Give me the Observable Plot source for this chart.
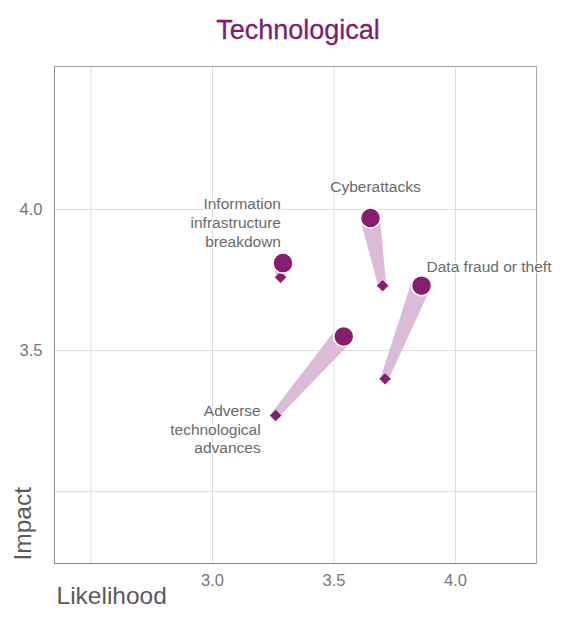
<!DOCTYPE html>
<html>
<head>
<meta charset="utf-8">
<script src="https://cdn.jsdelivr.net/npm/d3@7"></script>
<script src="https://cdn.jsdelivr.net/npm/@observablehq/plot@0.6"></script>
<style>
  body { margin: 0; background: #fff; font-family: "Liberation Sans", Arial, sans-serif; }
  #title { height: 50px; box-sizing: border-box; padding-top: 10px; line-height: 40px; text-align: center;
           font-size: 27px; color: #7d1f6e; width: 570px; padding-left: 26px; -webkit-text-stroke: 0.3px #7d1f6e; }
  #chart svg { display: block; }
</style>
</head>
<body>
<div id="title">Technological</div>
<div id="chart"></div>
<script>
// Data
const risks = ["Information infrastructure breakdown", "Cyberattacks", "Data fraud or theft", "Adverse technological advances"];
const labels = ["Information\ninfrastructure\nbreakdown", "Cyberattacks", "Data fraud or theft", "Adverse\ntechnological\nadvances"];
const likelihoodNew = [3.29, 3.65, 3.86, 3.54];
const impactNew = [3.81, 3.97, 3.73, 3.55];
const likelihoodOld = [3.28, 3.70, 3.71, 3.26];
const impactOld = [3.76, 3.73, 3.40, 3.27];
const xTicks = [3.0, 3.5, 4.0];
const yTicks = [3.5, 4.0];
const xGrid = [2.5, 3.0, 3.5, 4.0];
const yGrid = [3.0, 3.5, 4.0];

const rows = risks.map((r, i) => ({
  risk: r, label: labels[i],
  xn: likelihoodNew[i], yn: impactNew[i],
  xo: likelihoodOld[i], yo: impactOld[i]
}));

const purple = "#871d6e";
const band = "#dbbcd6";
const labelColor = "#6a6a6a";

// taper band drawn through Plot's scales
function taper(index, scales) {
  const g = d3.create("svg:g");
  for (const d of rows) {
    const x0 = scales.x(d.xo), y0 = scales.y(d.yo);
    const x1 = scales.x(d.xn), y1 = scales.y(d.yn);
    const dx = x1 - x0, dy = y1 - y0, L = Math.hypot(dx, dy) || 1;
    const nx = -dy / L, ny = dx / L;
    const w0 = 4, w1 = 10;
    const pts = [[x0 + nx * w0, y0 + ny * w0], [x1 + nx * w1, y1 + ny * w1],
                 [x1 - nx * w1, y1 - ny * w1], [x0 - nx * w0, y0 - ny * w0]];
    g.append("polygon").attr("points", pts.map(p => p.join(",")).join(" ")).attr("fill", band);
  }
  return g.node();
}

const txt = {fill: labelColor, fontSize: 15.5, lineHeight: 1.22, stroke: "white", strokeWidth: 3, strokeOpacity: 0.8};

const chart = Plot.plot({
  width: 570,
  height: 581,
  marginTop: 16,
  marginLeft: 54,
  marginRight: 34,
  marginBottom: 68,
  style: {fontFamily: "Liberation Sans, Arial, sans-serif", background: "white"},
  x: {domain: [2.35, 4.333]},
  y: {domain: [2.745, 4.507]},
  marks: [
    Plot.gridX(xGrid, {stroke: "#dcdcdc", strokeOpacity: 1}),
    Plot.gridY(yGrid, {stroke: "#dcdcdc", strokeOpacity: 1}),
    Plot.frame({stroke: "#a8a8a8"}),
    Plot.ruleX([2.35], {stroke: "#8a8a8a"}),
    Plot.ruleY([2.745], {stroke: "#8a8a8a"}),
    Plot.axisX(xTicks, {tickSize: 0, tickPadding: 11, tickFormat: d3.format(".1f"), fontSize: 16.5, fill: "#777", label: null}),
    Plot.axisY(yTicks, {tickSize: 0, tickPadding: 12, tickFormat: d3.format(".1f"), fontSize: 16.5, fill: "#777", label: null}),
    Plot.text(["Likelihood"], {frameAnchor: "bottom-left", textAnchor: "start", lineAnchor: "bottom", dx: 2, dy: 40, fontSize: 24.5, fill: "#5a5a5a"}),
    Plot.text(["Impact"], {frameAnchor: "bottom-left", textAnchor: "start", lineAnchor: "middle", rotate: -90, dx: -31, dy: -3, fontSize: 24.5, fill: "#5a5a5a"}),
    taper,
    Plot.dot(rows, {x: "xo", y: "yo", symbol: "diamond2", r: 5.5, fill: purple, stroke: "white", strokeWidth: 0.6}),
    Plot.dot(rows, {x: "xn", y: "yn", r: 10, fill: purple, stroke: "white", strokeWidth: 1.5}),
    Plot.text(rows.filter((d, i) => i === 0), {x: "xn", y: "yn", text: "label", textAnchor: "end", lineAnchor: "bottom", dx: -2, dy: -16, ...txt}),
    Plot.text(rows.filter((d, i) => i === 1), {x: "xn", y: "yn", text: "label", textAnchor: "middle", lineAnchor: "bottom", dx: 5, dy: -26, ...txt}),
    Plot.text(rows.filter((d, i) => i === 2), {x: "xn", y: "yn", text: "label", textAnchor: "start", lineAnchor: "bottom", dx: 5, dy: -14, ...txt}),
    Plot.text(rows.filter((d, i) => i === 3), {x: "xo", y: "yo", text: "label", textAnchor: "end", lineAnchor: "bottom", dx: -15, dy: 38, ...txt})
  ]
});
document.getElementById("chart").appendChild(chart);
</script>
</body>
</html>
